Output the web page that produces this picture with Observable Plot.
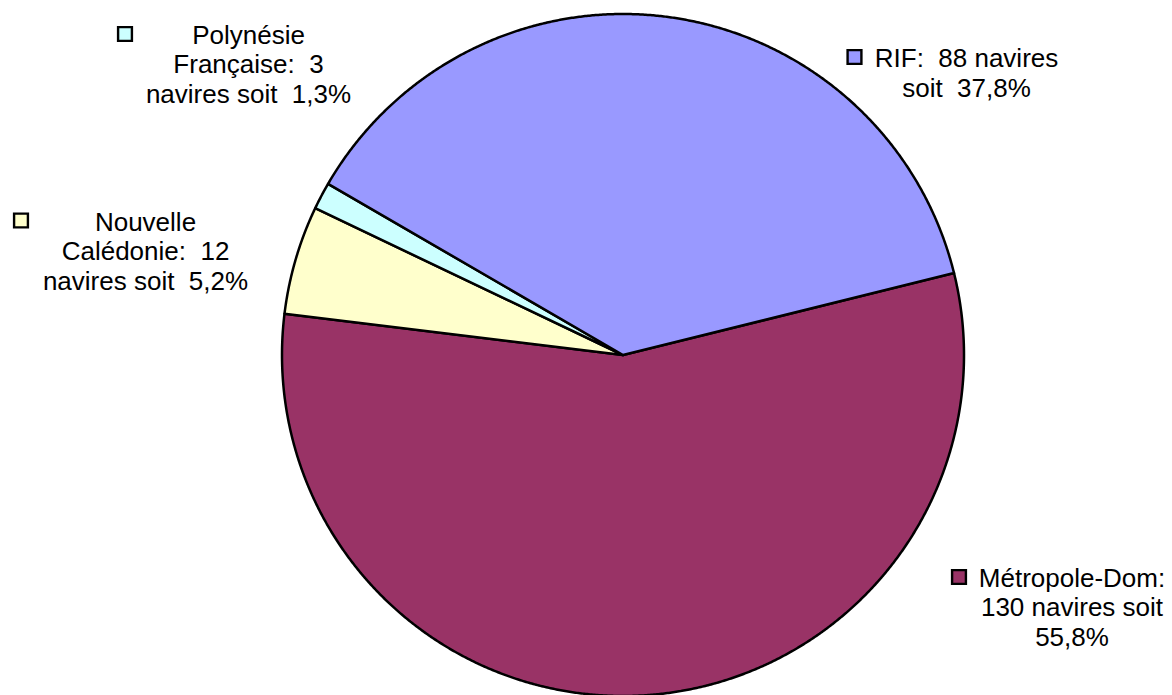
<!DOCTYPE html>
<html>
<head>
<meta charset="utf-8">
<script src="https://cdn.jsdelivr.net/npm/d3@7"></script>
<script src="https://cdn.jsdelivr.net/npm/@observablehq/plot@0.6"></script>
<style>
  html, body { margin: 0; padding: 0; background: #ffffff; }
  svg text { white-space: pre; }
</style>
</head>
<body>
<div id="chart"></div>
<script>
// ---- data ----
const names = ["Métropole-Dom", "Nouvelle Calédonie", "Polynésie Française", "RIF"];
const counts = [130, 12, 3, 88];
const colors = ["#993366", "#FFFFCC", "#CCFFFF", "#9999FF"];
const labelLines = [
  ["Métropole-Dom:", "130 navires soit", "55,8%"],
  ["Nouvelle", "Calédonie:  12", "navires soit  5,2%"],
  ["Polynésie", "Française:  3", "navires soit  1,3%"],
  ["RIF:  88 navires", "soit  37,8%"]
];

// ---- layout (pixels) ----
const cx = 622.5, cy = 354.5, R = 341, startDeg = 76.1;
const labelPos = [[1071.5, 645], [145, 289], [248, 102], [966, 96]]; // centre x, last baseline
const keyPos = [[958.5, 576.5], [20.5, 220], [124.5, 33.5], [854, 56.5]];

// ---- geometry in unit-circle coordinates ----
const a0 = startDeg * Math.PI / 180;
const arcs = d3.pie().sort(null).startAngle(a0).endAngle(a0 + 2 * Math.PI)(counts);
const slices = arcs.map((a, i) => {
  const pts = [{x: 0, y: 0}];
  const n = Math.max(2, Math.ceil((a.endAngle - a.startAngle) / (Math.PI / 720)));
  for (let k = 0; k <= n; k++) {
    const t = a.startAngle + (a.endAngle - a.startAngle) * k / n;
    pts.push({x: Math.sin(t), y: Math.cos(t)});
  }
  pts.push({x: 0, y: 0});
  return {name: names[i], color: colors[i], pts};
});

const toX = px => (px - cx) / R;
const toY = py => (cy - py) / R;

const labels = names.map((n, i) => ({
  name: n, text: labelLines[i].join("\n"),
  x: toX(labelPos[i][0]), y: toY(labelPos[i][1])
}));
const keys = names.map((n, i) => ({
  name: n, color: colors[i], x: toX(keyPos[i][0]), y: toY(keyPos[i][1])
}));

const marks = [
  ...slices.map(s => Plot.line(s.pts, {
    x: "x", y: "y", fill: s.color, stroke: "black", strokeWidth: 2.5,
    strokeLinejoin: "round", curve: "linear"
  })),
  Plot.dot(keys, {
    x: "x", y: "y", symbol: "square", r: 7.8, fill: d => d.color,
    stroke: "black", strokeWidth: 2.4
  }),
  Plot.text(labels, {
    x: "x", y: "y", text: "text", textAnchor: "middle", lineAnchor: "bottom",
    lineHeight: 1.13, fontSize: 26, fill: "black",
    fontFamily: "Liberation Sans, Arial, sans-serif"
  })
];

const chart = Plot.plot({
  width: 1172,
  height: 695,
  margin: 0,
  x: {type: "linear", domain: [-1, 1], range: [cx - R, cx + R], axis: null},
  y: {type: "linear", domain: [-1, 1], range: [cy + R, cy - R], axis: null},
  color: {type: "identity"},
  style: {background: "white", fontFamily: "Liberation Sans, Arial, sans-serif"},
  marks
});
document.getElementById("chart").appendChild(chart);
</script>
</body>
</html>
